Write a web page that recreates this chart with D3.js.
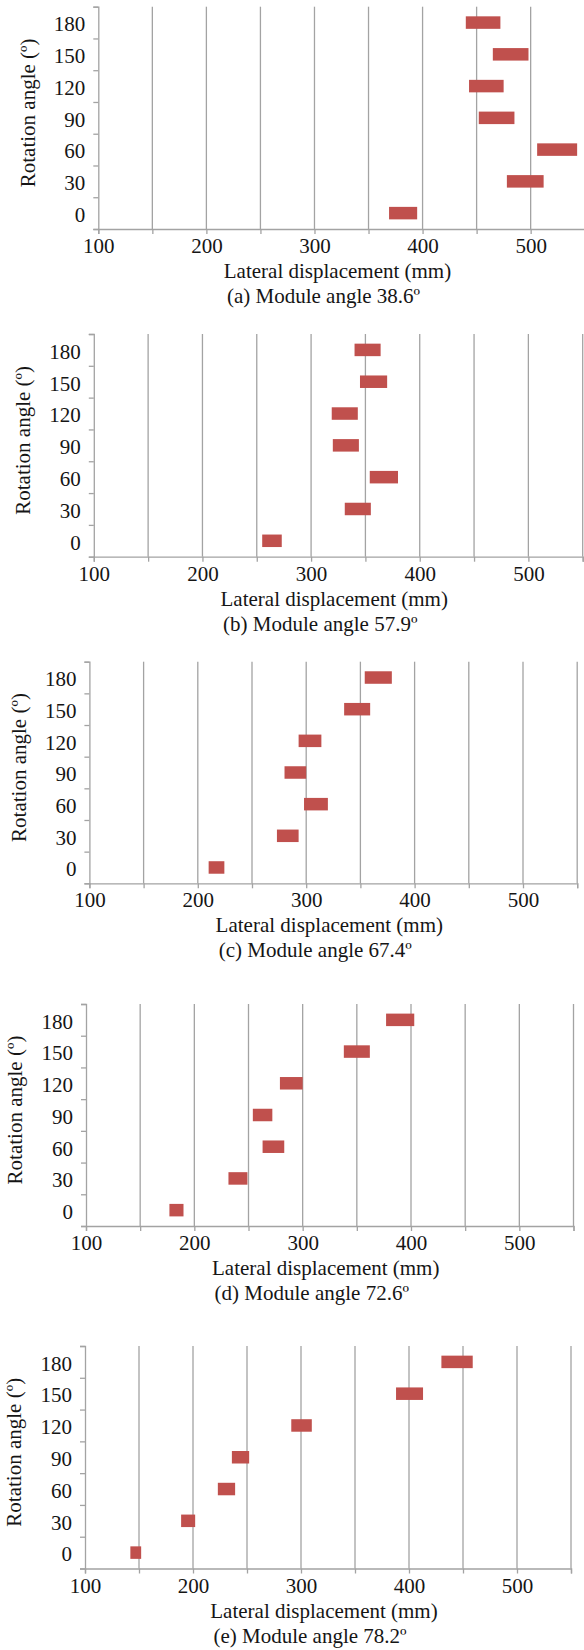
<!DOCTYPE html>
<html>
<head>
<meta charset="utf-8">
<script src="https://cdn.jsdelivr.net/npm/d3@7"></script>
<style>
  body { margin: 0; background: #fff; }
  svg text { font-family: "Liberation Serif", "Times New Roman", serif; fill: #151515; }
</style>
</head>
<body>
<svg id="chart" width="584" height="1650"></svg>
<script>
// data (min / max lateral displacement per rotation angle)
let angles = [0, 30, 60, 90, 120, 150, 180];
let xTickLabels = [100, 200, 300, 400, 500];
let xGrid = [100, 150, 200, 250, 300, 350, 400, 450, 500, 550];

let loA = [369, 478, 506, 452, 443, 465, 440];
let hiA = [395, 512, 543, 485, 475, 498, 472];
let loB = [255, 331, 354, 320, 319, 345, 340];
let hiB = [273, 355, 380, 344, 343, 370, 364];
let loC = [210, 273, 298, 280, 293, 335, 354];
let hiC = [224.5, 293, 320, 300, 314, 359, 379];
let loD = [177, 231.5, 263, 254, 279, 338, 377];
let hiD = [190, 249, 283, 272, 300, 362, 403];
let loE = [142, 189, 223, 236, 291, 388, 430];
let hiE = [152, 202, 239, 252, 310, 413, 459];

let captions = ['(a) Module angle 38.6º', '(b) Module angle 57.9º', '(c) Module angle 67.4º',
                '(d) Module angle 72.6º', '(e) Module angle 78.2º'];
let xTitle = 'Lateral displacement (mm)';
let yTitle = 'Rotation angle (º)';

// panel placement on the page
let panels = [
  {lo: loA, hi: hiA, left: 98.3, right: 584.7, top: 6.7, bottom: 229},
  {lo: loB, hi: hiB, left: 93.8, right: 582.7, top: 334, bottom: 556.7},
  {lo: loC, hi: hiC, left: 89.4, right: 577.2, top: 661.7, bottom: 883.3},
  {lo: loD, hi: hiD, left: 86.0, right: 573.5, top: 1004, bottom: 1226},
  {lo: loE, hi: hiE, left: 85.0, right: 571.0, top: 1346, bottom: 1568.5}
];

let svg = d3.select('#chart');
let gridColor = '#a3a3a3';
let barColor = '#c0504d';
let fontSize = 21;

let drawPanel = (p, i) => {
  let g = svg.append('g');
  let xScale = d3.scaleLinear().domain([100, 550]).range([p.left, p.right]);
  let yScale = d3.scaleBand().domain(angles.slice().reverse()).range([p.top, p.bottom]).padding(0);
  let yTicks = d3.scaleLinear().domain([0, angles.length]).range([p.bottom, p.top]);

  // vertical gridlines
  g.selectAll('.grid')
    .data(xGrid.slice(1))
    .enter()
    .append('line')
    .attr('x1', d => xScale(d))
    .attr('x2', d => xScale(d))
    .attr('y1', p.top)
    .attr('y2', p.bottom)
    .attr('stroke', gridColor)
    .attr('stroke-width', 1.3);

  // x axis
  let xAxis = d3.axisBottom(xScale)
    .tickValues(xGrid)
    .tickSize(5)
    .tickFormat(d => xTickLabels.includes(d) ? d : '');
  let xg = g.append('g')
    .attr('transform', 'translate(0,' + p.bottom + ')')
    .call(xAxis);
  xg.select('.domain').attr('stroke', gridColor).attr('stroke-width', 1.3);
  xg.selectAll('.tick line').attr('stroke', gridColor).attr('stroke-width', 1.3);
  xg.selectAll('.tick text')
    .attr('y', 24)
    .attr('dy', 0)
    .style('font-size', fontSize + 'px')
    .style('font-family', '"Liberation Serif", serif')
    .attr('fill', '#151515');

  // y axis (ticks at band edges)
  let yAxis = d3.axisLeft(yTicks)
    .tickValues(d3.range(angles.length + 1))
    .tickSize(5)
    .tickFormat('');
  let yg = g.append('g')
    .attr('transform', 'translate(' + p.left + ',0)')
    .call(yAxis);
  yg.select('.domain').attr('stroke', gridColor).attr('stroke-width', 1.3);
  yg.selectAll('.tick line').attr('stroke', gridColor).attr('stroke-width', 1.3);

  // y labels centred in each band
  g.selectAll('.ylab')
    .data(angles)
    .enter()
    .append('text')
    .attr('x', p.left - 13)
    .attr('y', d => yScale(d) + yScale.bandwidth() / 2)
    .attr('dy', '0.42em')
    .attr('text-anchor', 'end')
    .style('font-size', fontSize + 'px')
    .text(d => d);

  // floating bars
  let barH = 12.5;
  g.selectAll('.bar')
    .data(angles)
    .enter()
    .append('rect')
    .attr('x', (d, k) => xScale(p.lo[k]))
    .attr('width', (d, k) => xScale(p.hi[k]) - xScale(p.lo[k]))
    .attr('y', d => yScale(d) + yScale.bandwidth() / 2 - barH / 2)
    .attr('height', barH)
    .attr('fill', barColor);

  let cx = (p.left + p.right) / 2;
  g.append('text')
    .attr('x', cx - 4)
    .attr('y', p.bottom + 49)
    .attr('text-anchor', 'middle')
    .style('font-size', fontSize + 'px')
    .text(xTitle);
  g.append('text')
    .attr('x', cx - 18)
    .attr('y', p.bottom + 74)
    .attr('text-anchor', 'middle')
    .style('font-size', fontSize + 'px')
    .text(captions[i]);

  let cy = (p.top + p.bottom) / 2 - 5;
  g.append('text')
    .attr('transform', 'translate(' + (p.left - 71) + ',' + cy + ') rotate(-90)')
    .attr('dy', '0.35em')
    .attr('text-anchor', 'middle')
    .style('font-size', fontSize + 'px')
    .text(yTitle);
};

panels.forEach(drawPanel);
</script>
</body>
</html>
